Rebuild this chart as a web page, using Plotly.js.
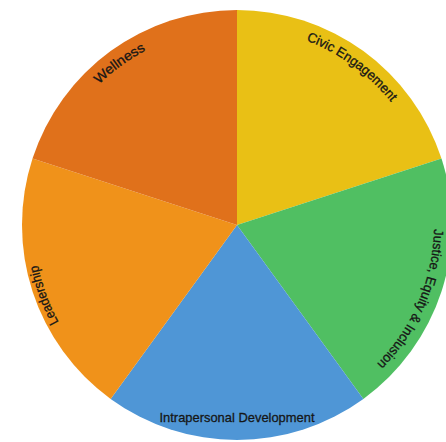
<!DOCTYPE html>
<html>
<head>
<meta charset="utf-8">
<script src="https://cdn.plot.ly/plotly-3.0.1.min.js"></script>
<style>
  html, body { margin: 0; padding: 0; background: #ffffff; overflow: hidden; width: 446px; height: 442px; }
  #chart { width: 474px; height: 442px; }
</style>
</head>
<body>
<div id="chart"></div>
<script>
// ---- data ----
const categories = ["Civic Engagement", "Justice, Equity & Inclusion", "Intrapersonal Development", "Leadership", "Wellness"];
const shares = [20, 20, 20, 20, 20];
const sliceColors = ["#E9C015", "#50BF62", "#4F96D6", "#F0921A", "#E0711B"];

// label styling (lengths in px along the arc, small angular nudges in degrees, radial inset in px)
const labelLengths = [106, 150, 155, 61, 58];
const labelNudgeDeg = [0, 5, 0, -2, 0];
const labelInset = [18, 18, 18, 12, 18];

const LABEL_FONT = "'Liberation Sans', Arial, sans-serif";
const LABEL_SIZE = 13.5;
const LABEL_COLOR = "#161616";

const trace = {
  type: "pie",
  labels: categories,
  values: shares,
  sort: false,
  direction: "clockwise",
  rotation: 0,
  textinfo: "none",
  hoverinfo: "none",
  marker: { colors: sliceColors, line: { width: 0 } },
  showlegend: false
};

const layout = {
  width: 474,
  height: 442,
  margin: { l: 0, r: 0, t: 10, b: 2 },
  paper_bgcolor: "#ffffff",
  plot_bgcolor: "#ffffff",
  showlegend: false
};

const gd = document.getElementById("chart");
Plotly.newPlot(gd, [trace], layout, { displayModeBar: false, staticPlot: true }).then(function () {
  const cd0 = gd.calcdata[0][0];
  const cx = cd0.cx, cy = cd0.cy, r = cd0.r;
  const svgNS = "http://www.w3.org/2000/svg";
  const svgs = gd.querySelectorAll("svg.main-svg");
  const mainSvg = svgs[svgs.length - 1];
  const g = document.createElementNS(svgNS, "g");
  g.setAttribute("class", "curved-labels");
  mainSvg.appendChild(g);

  const total = shares.reduce((a, b) => a + b, 0);
  let acc = 0;
  const pt = (t, rad) => [cx + rad * Math.sin(t), cy - rad * Math.cos(t)];

  categories.forEach(function (name, i) {
    const a0 = acc / total * 2 * Math.PI;
    acc += shares[i];
    const a1 = acc / total * 2 * Math.PI;
    const mid = (a0 + a1) / 2 + labelNudgeDeg[i] * Math.PI / 180;
    const text = document.createElementNS(svgNS, "text");
    text.setAttribute("font-family", LABEL_FONT);
    text.setAttribute("font-size", LABEL_SIZE);
    text.setAttribute("fill", LABEL_COLOR);
    text.style.fontFamily = LABEL_FONT;
    text.style.fontSize = LABEL_SIZE + "px";
    text.style.fill = LABEL_COLOR;
    text.style.stroke = LABEL_COLOR;
    text.style.strokeWidth = "0.3px";
    const deg = mid * 180 / Math.PI;
    if (deg > 135 && deg < 225) {
      const p = pt(mid, r - labelInset[i]);
      text.setAttribute("x", p[0]);
      text.setAttribute("y", p[1]);
      text.setAttribute("text-anchor", "middle");
      text.setAttribute("textLength", labelLengths[i]);
      text.setAttribute("lengthAdjust", "spacingAndGlyphs");
      text.textContent = name;
    } else {
      const rb = r - labelInset[i];
      const half = 0.7;
      const s = pt(mid - half, rb), e = pt(mid + half, rb);
      const path = document.createElementNS(svgNS, "path");
      const id = "lblpath" + i;
      path.setAttribute("id", id);
      path.setAttribute("d", "M" + s[0] + "," + s[1] + " A" + rb + "," + rb + " 0 0 1 " + e[0] + "," + e[1]);
      path.setAttribute("fill", "none");
      path.setAttribute("stroke", "none");
      g.appendChild(path);
      const tp = document.createElementNS(svgNS, "textPath");
      tp.setAttribute("href", "#" + id);
      tp.setAttributeNS("http://www.w3.org/1999/xlink", "xlink:href", "#" + id);
      tp.setAttribute("startOffset", "50%");
      tp.setAttribute("text-anchor", "middle");
      tp.setAttribute("textLength", labelLengths[i]);
      tp.setAttribute("lengthAdjust", "spacingAndGlyphs");
      tp.textContent = name;
      text.appendChild(tp);
    }
    g.appendChild(text);
  });
});
</script>
</body>
</html>
